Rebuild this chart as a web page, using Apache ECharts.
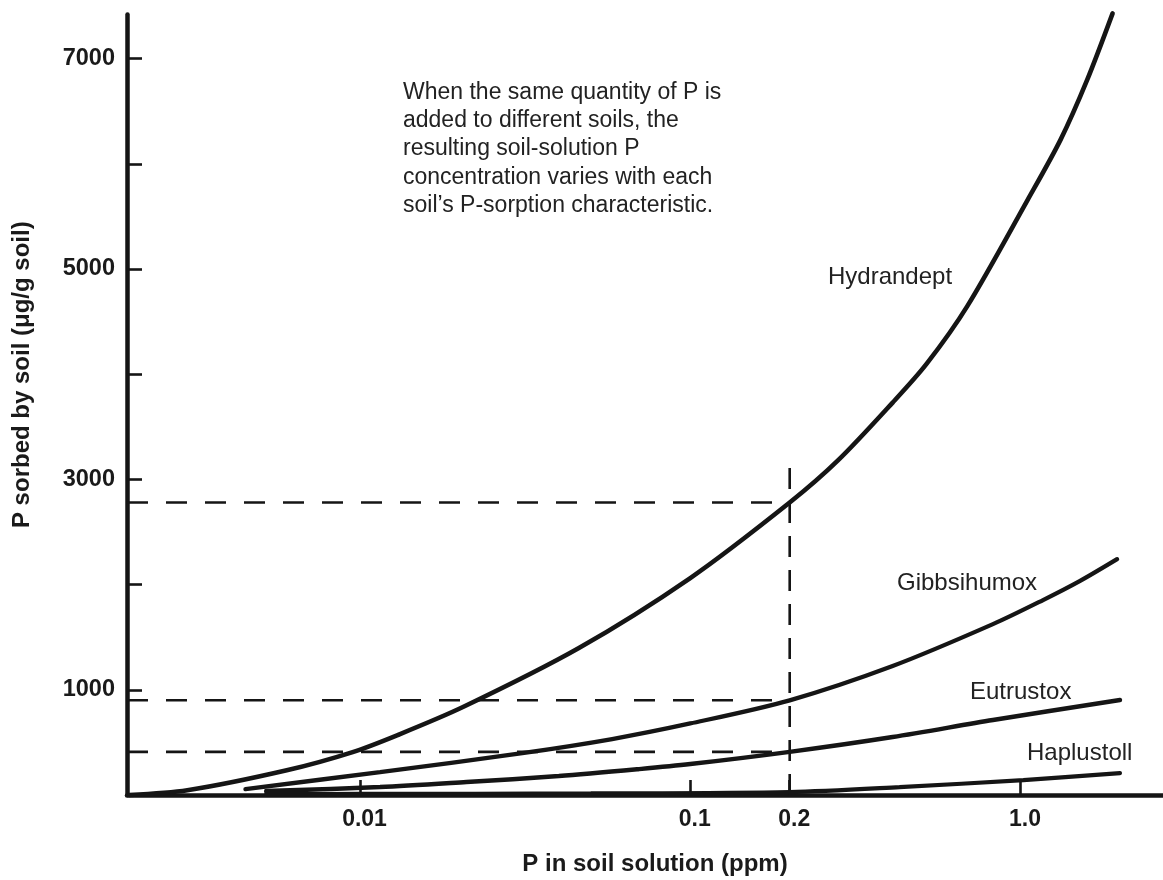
<!DOCTYPE html>
<html>
<head>
<meta charset="utf-8">
<script src="https://cdn.jsdelivr.net/npm/echarts@6/dist/echarts.min.js"></script>
<style>
  html, body { margin: 0; padding: 0; background: #ffffff; }
  #chart { width: 1163px; height: 880px; }
</style>
</head>
<body>
<div id="chart"></div>
<script>
// Phosphorus sorption isotherms: P in soil solution (ppm, log scale) vs P sorbed (µg/g soil)
const hydrandeptPpm    = [0.002, 0.003, 0.006, 0.0095, 0.013, 0.0205, 0.046, 0.1, 0.2, 0.28, 0.41, 0.52, 0.69, 1.05, 1.32, 1.59, 1.9];
const hydrandeptSorbed = [0, 45, 235, 408, 570, 836, 1397, 2062, 2780, 3180, 3730, 4100, 4647, 5655, 6225, 6795, 7430];

const gibbsihumoxPpm    = [0.0045, 0.0115, 0.031, 0.058, 0.1, 0.2, 0.41, 0.825, 1.17, 1.51, 1.96];
const gibbsihumoxSorbed = [56, 218, 398, 532, 680, 900, 1226, 1624, 1853, 2033, 2242];

const eutrustoxPpm    = [0.0052, 0.0115, 0.021, 0.04, 0.07, 0.1, 0.2, 0.41, 0.825, 2.0];
const eutrustoxSorbed = [37, 75, 123, 180, 246, 294, 410, 551, 713, 903];

const haplustollPpm    = [0.0052, 0.01, 0.05, 0.2, 0.43, 1.02, 2.0];
const haplustollSorbed = [8, 10, 15, 28, 75, 142, 208];

// Reading at 0.2 ppm in solution: sorbed P for Hydrandept, Gibbsihumox, Eutrustox
const refPpm = 0.2;
const refSorbed = [2780, 900, 410];
const refTop = 3130;

// Axis ranges and ticks
const xMinPpm = 0.00197;
const xMaxPpm = 2.7;
const xTickPpm = [0.01, 0.1, 0.2, 1.0];
const xTickLabels = ['0.01', '0.1', '0.2', '1.0'];
const yMax = 7420;
const yTicks = [1000, 2000, 3000, 4000, 5000, 6000, 7000];
const yTickLabels = [1000, 3000, 5000, 7000];

const FONT = '"Liberation Sans", Arial, Helvetica, sans-serif';
const INK = '#151515';
const lg = v => Math.log10(v);
const pairs = (xs, ys) => xs.map((x, i) => [lg(x), ys[i]]);

function curve(name, xs, ys, width) {
  return {
    name, type: 'line', data: pairs(xs, ys),
    smooth: 0.3, symbol: 'none', clip: false,
    lineStyle: { color: INK, width, cap: 'round' }, z: 3, silent: true
  };
}

const dashed = (data, pattern) => ({
  type: 'line', data, symbol: 'none', silent: true, z: 2,
  lineStyle: { color: INK, width: 2.6, type: pattern }
});

const series = [
  curve('Hydrandept', hydrandeptPpm, hydrandeptSorbed, 4.6),
  curve('Gibbsihumox', gibbsihumoxPpm, gibbsihumoxSorbed, 4.3),
  curve('Eutrustox', eutrustoxPpm, eutrustoxSorbed, 4.5),
  curve('Haplustoll', haplustollPpm, haplustollSorbed, 4.2)
];
refSorbed.forEach(v => series.push(dashed([[lg(xMinPpm), v], [lg(refPpm), v]], [21, 18])));
series.push(dashed([[lg(refPpm), 0], [lg(refPpm), refTop]], [21, 13]));

const curveLabel = (text, x, y) => ({
  type: 'text', x, y, silent: true,
  style: { text, font: '24px ' + FONT, fill: '#222', verticalAlign: 'middle' }
});

const chart = echarts.init(document.getElementById('chart'), null, { renderer: 'canvas' });
chart.setOption({
  animation: false,
  backgroundColor: '#ffffff',
  grid: { left: 127, right: 0, top: 14.4, bottom: 85, containLabel: false, outerBoundsMode: 'none' },
  xAxis: {
    type: 'value', min: lg(xMinPpm), max: lg(xMaxPpm),
    axisLine: { show: true, onZero: false, lineStyle: { color: INK, width: 4.5 } },
    axisTick: { show: true, inside: true, length: 15, customValues: xTickPpm.map(lg),
                lineStyle: { color: INK, width: 2.6 } },
    axisLabel: {
      customValues: xTickPpm.map(lg), margin: 13, padding: [0, 0, 0, 9],
      fontFamily: FONT, fontSize: 23, fontWeight: 'bold', color: '#1a1a1a',
      formatter: v => {
        let best = 0;
        xTickPpm.forEach((p, i) => { if (Math.abs(lg(p) - v) < Math.abs(lg(xTickPpm[best]) - v)) best = i; });
        return xTickLabels[best];
      }
    },
    splitLine: { show: false },
    name: 'P in soil solution (ppm)', nameLocation: 'middle', nameGap: 57,
    nameTextStyle: { fontFamily: FONT, fontSize: 24, fontWeight: 'bold', color: '#1a1a1a', padding: [0, 0, 0, 20] }
  },
  yAxis: {
    type: 'value', min: 0, max: yMax,
    axisLine: { show: true, onZero: false, lineStyle: { color: INK, width: 4.5 } },
    axisTick: { show: true, inside: true, length: 15, customValues: yTicks,
                lineStyle: { color: INK, width: 2.6 } },
    axisLabel: {
      customValues: yTickLabels, margin: 12,
      fontFamily: FONT, fontSize: 23.5, fontWeight: 'bold', color: '#1a1a1a',
      formatter: v => String(Math.round(v))
    },
    splitLine: { show: false },
    name: 'P sorbed by soil (μg/g soil)', nameLocation: 'middle', nameGap: 93, nameRotate: 90,
    nameTextStyle: { fontFamily: FONT, fontSize: 24, fontWeight: 'bold', color: '#1a1a1a', padding: [0, 0, 0, 60] }
  },
  graphic: [
    {
      type: 'text', x: 403, y: 78, silent: true,
      style: {
        text: 'When the same quantity of P is\nadded to different soils, the\nresulting soil-solution P\nconcentration varies with each\nsoil\u2019s P-sorption characteristic.',
        font: '23px ' + FONT, fill: '#222', lineHeight: 28.4
      }
    },
    curveLabel('Hydrandept', 828, 277),
    curveLabel('Gibbsihumox', 897, 583),
    curveLabel('Eutrustox', 970, 692),
    curveLabel('Haplustoll', 1027, 753)
  ],
  series
});
</script>
</body>
</html>
